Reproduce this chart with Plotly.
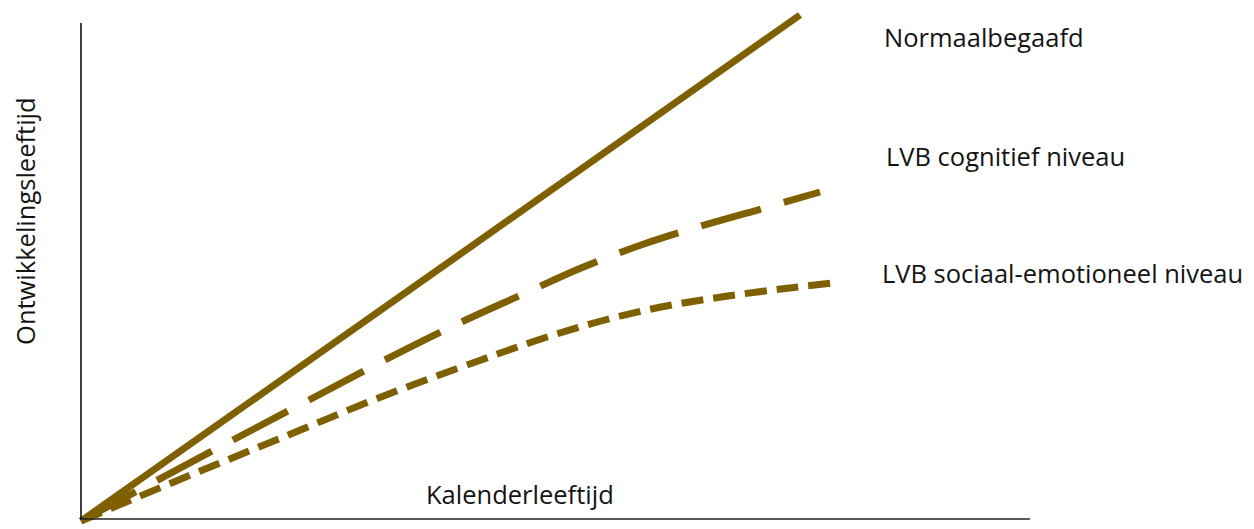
import plotly.graph_objects as go

# Data (x = calendar age, y = developmental age, arbitrary units)
solid_x = [0, 719]
solid_y = [-2, 504]

cog_x = [0, 150, 230, 300, 370, 440, 500, 560, 620, 680, 739]
cog_y = [-2, 78, 120, 157, 192, 224, 251, 274, 293, 310, 327]

soc_x = [0, 100, 200, 300, 400, 460, 520, 580, 640, 700, 751]
soc_y = [-2, 40, 81, 122, 159, 180, 198, 212, 222, 230, 236]

labels = ["Normaalbegaafd", "LVB cognitief niveau", "LVB sociaal-emotioneel niveau"]
label_x = [801, 803, 799]
label_y = [482, 363, 246]

x_title = "Kalenderleeftijd"
y_title = "Ontwikkelingsleeftijd"

X_MAX = 949
Y_AXIS_TOP = 496

COLOR = "#7F6000"
TEXT_COLOR = "#141414"
FONT = "Open Sans"
FS = 25.5

fig = go.Figure()
fig.add_trace(go.Scatter(x=solid_x, y=solid_y, mode="lines",
                         line=dict(color=COLOR, width=7), hoverinfo="skip"))
fig.add_trace(go.Scatter(x=cog_x, y=cog_y, mode="lines",
                         line=dict(color=COLOR, width=7, dash="62px,24px", shape="spline"),
                         hoverinfo="skip"))
fig.add_trace(go.Scatter(x=soc_x, y=soc_y, mode="lines",
                         line=dict(color=COLOR, width=7, dash="22px,10px", shape="spline"),
                         hoverinfo="skip"))

# axis lines
fig.add_shape(type="line", x0=-1, x1=X_MAX, y0=0, y1=0, line=dict(color="#222", width=1.6))
fig.add_shape(type="line", x0=0, x1=0, y0=0, y1=Y_AXIS_TOP, line=dict(color="#000", width=1.5))

for t, x, y in zip(labels, label_x, label_y):
    fig.add_annotation(x=x, y=y, text=t, showarrow=False, xanchor="left", yanchor="middle",
                       font=dict(family=FONT, size=FS, color=TEXT_COLOR))

fig.add_annotation(x=439, y=25, text=x_title, showarrow=False, xanchor="center", yanchor="middle",
                   font=dict(family=FONT, size=FS, color=TEXT_COLOR))
fig.add_annotation(x=-0.0524, xref="paper", y=298, yref="y", text=y_title, showarrow=False,
                   textangle=-90, xanchor="center", yanchor="middle",
                   font=dict(family=FONT, size=FS, color=TEXT_COLOR))

# page body has an 8px default margin, so the figure is 8px smaller than the window
fig.update_layout(
    width=1246, height=521,
    margin=dict(l=67, r=224, t=2, b=2),
    paper_bgcolor="white", plot_bgcolor="white",
    showlegend=False,
    xaxis=dict(range=[-6, X_MAX], visible=False, fixedrange=True),
    yaxis=dict(range=[-8, 509], visible=False, fixedrange=True),
)
fig.write_html("out.html")
